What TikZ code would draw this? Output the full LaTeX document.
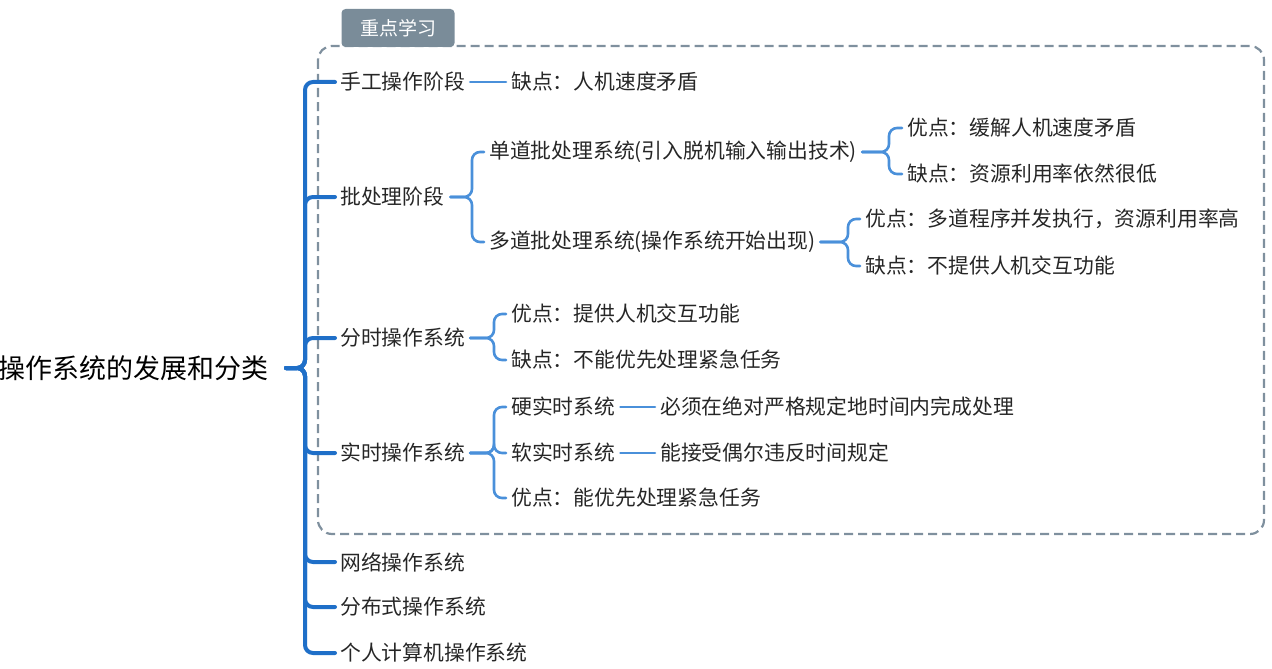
\documentclass[tikz,border=0pt]{standalone}
\usepackage{fontspec}
\setmainfont{Noto Sans CJK SC}
\begin{document}
\begin{tikzpicture}[x=1pt,y=-1pt]
\useasboundingbox (0,0) rectangle (1272,669);
\definecolor{trk}{HTML}{1F6FC8}
\definecolor{brc}{HTML}{4A90DA}
\definecolor{dash}{HTML}{7F909E}
\definecolor{tabc}{HTML}{7A8C99}
\tikzset{t/.style={anchor=west,inner sep=0pt,font=\fontsize{20.8}{23}\selectfont,text=black!85},
 trunk/.style={draw=trk,line width=4pt,rounded corners=8pt,line cap=round},
 br/.style={draw=brc,line width=2.6pt,rounded corners=8pt,line cap=round}}
% dashed box and tab
\draw[draw=dash,line width=2.2pt,dash pattern=on 9pt off 5pt,rounded corners=14pt] (318,46) rectangle (1264,534);
\node[fill=tabc,rounded corners=4pt,minimum width=113pt,minimum height=38pt,text=white,font=\fontsize{19}{21}\selectfont] (tab) at (398,28) {重点学习};
% root
\node[anchor=east,inner sep=0pt,font=\fontsize{27}{29}\selectfont] (root) at (269,368) {操作系统的发展和分类};
% level 1
\node[t] (a) at (340,82) {手工操作阶段};
\node[t] (b) at (340,197) {批处理阶段};
\node[t] (c) at (340,338) {分时操作系统};
\node[t] (d) at (340,453) {实时操作系统};
\node[t] (e) at (340,562) {网络操作系统};
\node[t] (f) at (340,607) {分布式操作系统};
\node[t] (g) at (340,653) {个人计算机操作系统};
\foreach \n in {a,b,c,d,e,f,g}
  \draw[trunk] (286,368) -- (305,368) |- ([xshift=-5pt]\n.west);
% a
\node[t] (a1) at (511,82) {缺点：人机速度矛盾};
\draw[br] ([xshift=5pt]a.east) -- ([xshift=-5pt]a1.west);
% b
\node[t] (b1) at (489,152) {单道批处理系统(引入脱机输入输出技术)};
\node[t] (b2) at (489,242) {多道批处理系统(操作系统开始出现)};
\foreach \n in {b1,b2}
  \draw[br] ([xshift=6pt]b.east) -- (472,197) |- ([xshift=-5pt]\n.west);
\node[t] (b11) at (907,128) {优点：缓解人机速度矛盾};
\node[t] (b12) at (907,174) {缺点：资源利用率依然很低};
\foreach \n in {b11,b12}
  \draw[br] ([xshift=5pt]b1.east) -- (889,152) |- ([xshift=-5pt]\n.west);
\node[t] (b21) at (865,219) {优点：多道程序并发执行，资源利用率高};
\node[t] (b22) at (865,266) {缺点：不提供人机交互功能};
\foreach \n in {b21,b22}
  \draw[br] ([xshift=5pt]b2.east) -- (848,242) |- ([xshift=-5pt]\n.west);
% c
\node[t] (c1) at (511,314) {优点：提供人机交互功能};
\node[t] (c2) at (511,360) {缺点：不能优先处理紧急任务};
\foreach \n in {c1,c2}
  \draw[br] ([xshift=5pt]c.east) -- (494,338) |- ([xshift=-5pt]\n.west);
% d
\node[t] (d1) at (511,407) {硬实时系统};
\node[t] (d2) at (511,453) {软实时系统};
\node[t] (d3) at (511,498) {优点：能优先处理紧急任务};
\foreach \n in {d1,d2,d3}
  \draw[br] ([xshift=5pt]d.east) -- (494,453) |- ([xshift=-5pt]\n.west);
\node[t] (d11) at (660,407) {必须在绝对严格规定地时间内完成处理};
\node[t] (d21) at (660,453) {能接受偶尔违反时间规定};
\draw[br] ([xshift=5pt]d1.east) -- ([xshift=-5pt]d11.west);
\draw[br] ([xshift=5pt]d2.east) -- ([xshift=-5pt]d21.west);
\end{tikzpicture}
\end{document}
